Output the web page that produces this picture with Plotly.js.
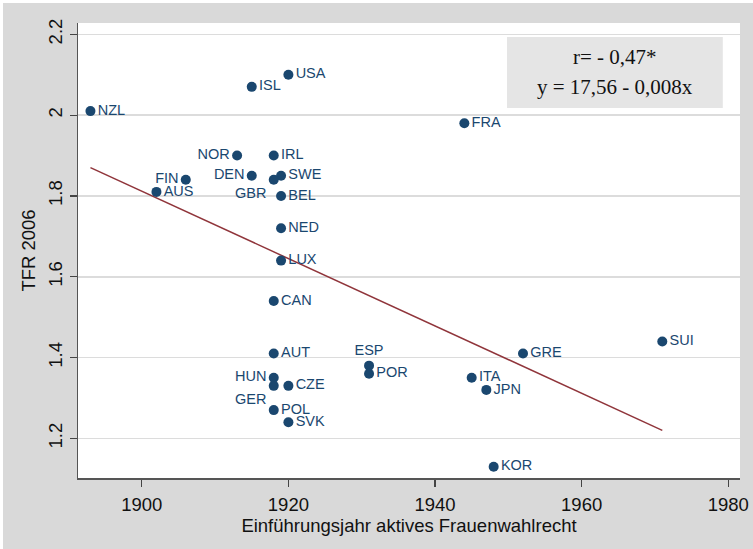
<!DOCTYPE html>
<html>
<head>
<meta charset="utf-8">
<script src="https://cdn.plot.ly/plotly-3.0.1.min.js"></script>
<style>
  html, body { margin: 0; padding: 0; background: #ffffff; }
  #chart { position: absolute; left: 3px; top: 3px; width: 750px; height: 546px; }
</style>
</head>
<body>
<div id="chart"></div>
<script>
// Country codes
const countries = ["NZL","ISL","USA","NOR","IRL","DEN","SWE","GBR","BEL","FIN","AUS","NED","LUX","CAN","AUT","HUN","GER","CZE","POL","SVK","ESP","POR","FRA","GRE","ITA","JPN","KOR","SUI"];
// Year of introduction of active women's suffrage
const suffrageYear = [1893,1915,1920,1913,1918,1915,1919,1918,1919,1906,1902,1919,1919,1918,1918,1918,1918,1920,1918,1920,1931,1931,1944,1952,1945,1947,1948,1971];
// Total fertility rate 2006
const tfr2006 = [2.01,2.07,2.10,1.90,1.90,1.85,1.85,1.84,1.80,1.84,1.81,1.72,1.64,1.54,1.41,1.35,1.33,1.33,1.27,1.24,1.38,1.36,1.98,1.41,1.35,1.32,1.13,1.44];
// Label positions
const labelPos = ["middle right","middle right","middle right","middle left","middle right","middle left","middle right","bottom left","middle right","middle left","middle right","middle right","middle right","middle right","middle right","middle left","bottom left","middle right","middle right","middle right","top center","middle right","middle right","middle right","middle right","middle right","middle right","middle right"];
// Fitted line endpoints
const fitX = [1893, 1971];
const fitY = [1.87, 1.22];

const xTicks = [1900, 1920, 1940, 1960, 1980];
const yTicks = [1.2, 1.4, 1.6, 1.8, 2, 2.2];
const yTickText = ["1.2", "1.4", "1.6", "1.8", "2", "2.2"];

const navy = "#1a476f";
const maroon = "#90353b";

const traces = [
  {
    x: fitX, y: fitY, mode: "lines", type: "scatter",
    line: { color: maroon, width: 1.5 }, hoverinfo: "skip", showlegend: false
  },
  {
    x: suffrageYear, y: tfr2006, text: countries, mode: "markers+text", type: "scatter",
    textposition: labelPos,
    textfont: { family: "Liberation Sans, Arial, sans-serif", size: 14.5, color: navy },
    marker: { color: navy, size: 10 },
    showlegend: false
  }
];

const layout = {
  width: 750, height: 546,
  paper_bgcolor: "#d9d9d9",
  plot_bgcolor: "#ffffff",
  margin: { l: 75, r: 13, t: 20, b: 71 },
  font: { family: "Liberation Sans, Arial, sans-serif", color: "#111111" },
  xaxis: {
    range: [1891.3, 1981.6],
    tickvals: xTicks,
    ticks: "outside", ticklen: 7, tickwidth: 1.2, tickcolor: "#444",
    showgrid: false, zeroline: false,
    showline: true, linecolor: "#555", linewidth: 1.5,
    tickfont: { size: 18.5, color: "#111" },
    ticklabelstandoff: 2,
    title: { text: "Einführungsjahr aktives Frauenwahlrecht", font: { size: 18.5, color: "#111" }, standoff: 0 }
  },
  yaxis: {
    range: [1.102, 2.228],
    tickvals: yTicks, ticktext: yTickText,
    tickangle: -90,
    ticks: "outside", ticklen: 7, tickwidth: 1.2, tickcolor: "#444",
    showgrid: true, gridcolor: "#dcdcdc", gridwidth: 1.5,
    zeroline: false,
    showline: true, linecolor: "#555", linewidth: 1.5,
    tickfont: { size: 18.5, color: "#111" },
    title: { text: "TFR 2006", font: { size: 18.5, color: "#111" }, standoff: 4 }
  },
  shapes: [
    { type: "rect", xref: "paper", yref: "paper", x0: 0.648, x1: 0.974, y0: 0.813, y1: 0.969,
      fillcolor: "#e5e5e5", line: { width: 0 }, layer: "below" }
  ],
  annotations: [
    { xref: "paper", yref: "paper", x: 0.811, y: 0.925, text: "r= - 0,47*", showarrow: false,
      font: { family: "Liberation Serif, Times New Roman, serif", size: 21, color: "#111" }, xanchor: "center", yanchor: "middle" },
    { xref: "paper", yref: "paper", x: 0.811, y: 0.859, text: "y = 17,56 - 0,008x", showarrow: false,
      font: { family: "Liberation Serif, Times New Roman, serif", size: 21, color: "#111" }, xanchor: "center", yanchor: "middle" }
  ]
};

Plotly.newPlot("chart", traces, layout, { displayModeBar: false, staticPlot: true });
</script>
</body>
</html>
